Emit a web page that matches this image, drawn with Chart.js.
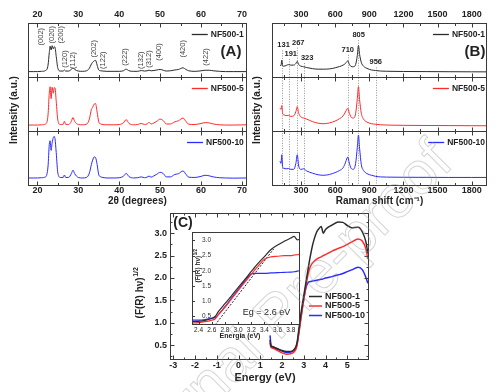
<!DOCTYPE html>
<html>
<head>
<meta charset="utf-8">
<script src="https://cdn.jsdelivr.net/npm/chart.js@4.4.1/dist/chart.umd.min.js"></script>
<style>
  html, body { margin: 0; padding: 0; background: #fff; }
  #wrap { position: relative; width: 502px; height: 392px; overflow: hidden; }
  canvas { position: absolute; }
</style>
</head>
<body>
<div id="wrap">
  <canvas id="xrd" width="250" height="210" style="left:0;top:0"></canvas>
  <canvas id="raman" width="252" height="210" style="left:250px;top:0"></canvas>
  <canvas id="km" width="260" height="187" style="left:120px;top:205px"></canvas>
  <canvas id="inset" width="122" height="125" style="left:185px;top:218px"></canvas>
  <canvas id="mark" width="502" height="392" style="left:0;top:0"></canvas>
</div>
<script>
const FONT = '"Liberation Sans", Arial, sans-serif';
Chart.defaults.font.family = FONT;
Chart.defaults.color = '#222';

const names = ['NF500-1', 'NF500-5', 'NF500-10'];

// (A) XRD, 2theta in degrees, intensity per sub-panel (0..100)
const xrdAngle = [17.7, 19, 20, 21, 22, 22.6, 22.9, 23.1, 23.35, 23.6, 23.9, 24.1, 24.3, 24.6, 25, 25.6, 26.3, 26.6, 26.9, 27.6,
  28.3, 28.7, 29.1, 30, 31, 32, 32.7, 33.2, 33.5, 33.9, 34.2, 34.6, 35, 35.5, 36, 37, 38.5, 40, 41, 41.7,
  42.4, 43.5, 44.5, 45.4, 46.2, 46.8, 47.3, 47.8, 48.5, 49.2, 50, 50.8, 51.5, 52.5, 53.6, 54.5, 55.6, 56.3, 57, 58.5,
  60, 61, 62, 63, 64.5, 66, 68, 71.2];
const xrd1 = [10, 10, 10, 10.5, 12, 22, 45, 57, 50, 58, 52, 56, 55, 38, 16, 11, 11, 13, 11, 11,
  14, 17, 14, 11, 10.5, 11.5, 16, 24, 27, 30, 31, 22, 13, 11.5, 11, 10.5, 10.5, 10.5, 11.5, 14.5,
  11.5, 10.5, 10.5, 12, 11, 11.5, 12.5, 11.5, 12, 13, 14, 12.5, 11, 11.5, 13, 14, 17, 14, 11.5, 10.5,
  11.5, 12.5, 12.5, 11.5, 10.5, 10, 10, 10];
const xrd5 = [11, 11, 11, 11.5, 13, 30, 70, 82, 60, 81, 70, 80, 80, 55, 20, 12, 12.5, 18, 12.5, 12,
  18, 25, 18, 12, 11.5, 12.5, 22, 40, 44, 50, 51, 35, 17, 13, 12, 11.5, 11.5, 12, 15, 21,
  14, 11.5, 12, 14, 12, 13, 16, 13, 15, 18, 22, 19, 13, 13, 17, 19, 24, 18, 12.5, 12,
  14, 15.5, 15, 13, 11.5, 11, 11, 11.5];
const xrd10 = [13, 13, 13, 13.5, 15, 35, 75, 82, 64, 78, 88, 90, 86, 60, 22, 14, 14, 18.5, 14, 14,
  21, 27.5, 21, 14, 13, 14, 22, 38, 46, 52, 51, 38, 19, 15, 14, 13, 13, 13.5, 16, 21.5,
  15.5, 13, 13.5, 15, 13.5, 14.5, 16.5, 14.5, 17, 20, 23.5, 21, 15, 15, 19.5, 21, 26, 20, 14.5, 14,
  16, 18, 17, 15, 13.5, 13, 12.7, 13];
const xrdTicks = [20, 30, 40, 50, 60, 70];
const millerIndex = ['(002)', '(020)', '(200)', '(120)', '(112)', '(202)', '(122)', '(222)', '(132)', '(312)', '(400)', '(420)', '(422)'];
const millerAngle = [20.8, 23.6, 25.7, 26.8, 28.6, 33.8, 35.9, 41.3, 45.4, 47.2, 49.7, 55.5, 61.1];
const millerLevel = [58.5, 62, 62, 17, 15, 36, 15, 21, 15, 17, 30, 36, 21];

// (B) Raman, shift in cm-1, intensity per sub-panel (0..100)
const ramanShift = [115, 124, 131, 138, 150, 170, 191, 210, 235, 255, 267, 280, 300, 323, 350, 400, 450, 500, 550, 600,
  640, 670, 690, 705, 712, 722, 740, 760, 780, 795, 805, 815, 830, 850, 880, 920, 956, 1000, 1100, 1200,
  1400, 1600, 1800, 1930];
const raman1 = [22, 21, 31, 21, 20, 21.5, 23, 22, 22, 25, 29, 23, 20, 19, 17.5, 15.5, 14.5, 14.5, 15, 17,
  19.5, 22, 25, 29, 30, 25, 19.5, 19, 23, 40, 58.5, 42, 27, 20, 16, 13, 12, 11, 10.5, 10.2,
  10, 9.8, 9.6, 9.5];
const raman5 = [42, 40, 47, 33, 30, 28.5, 29, 27, 28, 36, 45, 33, 26, 24, 22, 17.5, 14.5, 13.5, 15, 18.5,
  23, 28, 35, 41, 42, 35, 26, 24, 32, 60, 82, 58, 33, 22, 16.5, 13.5, 12.5, 11.5, 10.8, 10.5,
  10.2, 10, 9.8, 9.7];
const raman10 = [44, 40, 56, 33, 31, 30, 30.5, 29, 29, 40, 56, 35, 29, 30, 26, 22, 19, 18, 19.5, 23,
  27, 32, 41, 50, 52, 43, 31, 29, 40, 70, 92.5, 68, 38, 27, 21, 18, 16, 15, 14.5, 14.3,
  14.2, 14, 14, 14];
const ramanTicks = [300, 600, 900, 1200, 1500, 1800];
const ramanBand = [131, 191, 267, 323, 710, 805, 956];
const ramanLabelAt = [147, 210, 276, 354, 711, 807, 957];
const ramanLabelLevel = [58.5, 42.8, 63.6, 35.3, 50.4, 77.4, 27];

// (C) Kubelka-Munk, energy in eV
const kmEnergy = [1.45, 1.48, 1.5, 1.6, 1.8, 2.0, 2.2, 2.4, 2.55, 2.65, 2.7, 2.8, 2.9, 3.0, 3.1, 3.2, 3.3, 3.4, 3.5, 3.6,
  3.7, 3.8, 3.9, 4.0, 4.3, 4.6, 4.8, 5.0, 5.2, 5.5, 5.7, 5.85, 5.95];
const km1 = [0.62, 0.5, 0.48, 0.46, 0.42, 0.38, 0.36, 0.36, 0.4, 0.48, 0.58, 0.95, 1.3, 1.6, 1.9, 2.2, 2.48, 2.72, 2.9, 3.03,
  3.1, 3.15, 3.0, 3.08, 3.18, 3.25, 3.24, 3.17, 3.12, 3.13, 3.02, 2.82, 2.55];
const km5 = [0.56, 0.47, 0.45, 0.43, 0.38, 0.33, 0.3, 0.31, 0.35, 0.42, 0.52, 0.85, 1.2, 1.52, 1.82, 2.08, 2.25, 2.33, 2.38, 2.42,
  2.45, 2.47, 2.5, 2.52, 2.6, 2.66, 2.7, 2.75, 2.8, 2.87, 2.82, 2.66, 2.42];
const km10 = [0.72, 0.55, 0.5, 0.46, 0.41, 0.37, 0.34, 0.35, 0.39, 0.46, 0.55, 0.88, 1.22, 1.52, 1.78, 1.9, 1.92, 1.93, 1.94, 1.95,
  1.96, 1.97, 1.98, 2.0, 2.03, 2.07, 2.1, 2.14, 2.18, 2.24, 2.18, 2.02, 1.88];
const kmXTicks = [-3, -2, -1, 0, 1, 2, 3, 4, 5];
const kmYTicks = [0.5, 1.0, 1.5, 2.0, 2.5, 3.0];

// (C) inset
const insetEnergy = [2.3, 2.4, 2.5, 2.55, 2.6, 2.65, 2.7, 2.8, 2.9, 3.0, 3.1, 3.2, 3.25, 3.3, 3.4, 3.5, 3.6, 3.7, 3.8, 3.85, 3.9, 3.94];
const inset1 = [0.33, 0.34, 0.37, 0.4, 0.44, 0.5, 0.66, 0.92, 1.18, 1.45, 1.71, 1.98, 2.11, 2.24, 2.47, 2.7, 2.85, 2.97, 3.08, 3.13, 3.02, 3.04];
const inset5 = [0.28, 0.3, 0.33, 0.35, 0.38, 0.42, 0.56, 0.8, 1.08, 1.35, 1.62, 1.88, 2.02, 2.15, 2.38, 2.46, 2.48, 2.5, 2.5, 2.52, 2.53, 2.55];
const inset10 = [0.38, 0.38, 0.4, 0.42, 0.44, 0.47, 0.56, 0.82, 1.1, 1.38, 1.66, 1.9, 1.92, 1.92, 1.92, 1.93, 1.94, 1.95, 1.96, 1.97, 1.99, 2.01];
const fitEnergy = [2.65, 3.54];
const fitValue = [0.22, 2.72];
const insetXTicks = [2.4, 2.6, 2.8, 3.0, 3.2, 3.4, 3.6, 3.8];
const insetYTicks = [0.5, 1.0, 1.5, 2.0, 2.5, 3.0];

const lineColors = ['#2b2b2b', '#ff2b2b', '#2b2bff'];
const frameColor = '#3a3a3a';
const tickFont = { family: FONT, size: 9, weight: 'bold' };

function steps(a, b, s) {
  const out = [];
  for (let i = 0; a + i * s <= b + 1e-9; i++) out.push(+(a + i * s).toFixed(4));
  return out;
}

function series(xs, list, axisIds, width) {
  return list.map((ys, i) => ({
    label: names[i],
    data: xs.map((x, j) => ({ x, y: ys[j] })),
    yAxisID: axisIds ? axisIds[i] : 'y',
    borderColor: lineColors[i],
    borderWidth: width,
    pointRadius: 0,
    cubicInterpolationMode: 'monotone',
    fill: false
  }));
}

function xAxis(pos, min, max, list, h, pad, font, fmt) {
  return {
    type: 'linear', axis: 'x', position: pos, min, max,
    afterBuildTicks: s => { s.ticks = list.map(v => ({ value: v })); },
    afterFit: s => { s.height = h; },
    grid: { display: false, drawTicks: false },
    border: { display: false },
    ticks: { font, color: '#222', padding: pad, maxRotation: 0, autoSkip: false, callback: fmt || (v => v) }
  };
}

function stackY() {
  return {
    type: 'linear', position: 'left', stack: 'panels', stackWeight: 1, min: 0, max: 100,
    afterFit: s => { s.width = 0; },
    grid: { display: false, drawTicks: false },
    border: { display: false },
    ticks: { display: false }
  };
}

function marks(ctx, scale, vals, edge, dir, len) {
  ctx.beginPath();
  vals.forEach(v => {
    const p = Math.round(scale.getPixelForValue(v)) + 0.5;
    if (scale.isHorizontal()) { ctx.moveTo(p, edge); ctx.lineTo(p, edge + dir * len); }
    else { ctx.moveTo(edge, p); ctx.lineTo(edge + dir * len, p); }
  });
  ctx.stroke();
}

function drawStack(ctx, a, xs, panels, major, minor) {
  ctx.strokeStyle = frameColor;
  ctx.lineWidth = 1;
  const L = Math.round(a.left) + 0.5, R = Math.round(a.right) - 0.5;
  panels.forEach(p => {
    const T = Math.round(p.top) + 0.5, B = Math.round(p.bottom) + 0.5;
    ctx.strokeRect(L, T, R - L, B - T);
    marks(ctx, xs, major, T, 1, 4); marks(ctx, xs, minor, T, 1, 2.5);
    marks(ctx, xs, major, B, -1, 4); marks(ctx, xs, minor, B, -1, 2.5);
  });
}

// legend row whose text ends at xEnd
function legendRow(ctx, xEnd, y, color, text, len, size) {
  ctx.font = `bold ${size}px ${FONT}`;
  const x0 = xEnd - ctx.measureText(text).width;
  ctx.strokeStyle = color; ctx.lineWidth = 1.3;
  ctx.beginPath(); ctx.moveTo(x0 - 3 - len, y + 0.5); ctx.lineTo(x0 - 3, y + 0.5); ctx.stroke();
  ctx.fillStyle = '#222';
  ctx.textAlign = 'left'; ctx.textBaseline = 'middle';
  ctx.fillText(text, x0, y + 0.5);
}

function text(ctx, t, x, y, font, rot) {
  ctx.save();
  ctx.translate(x, y);
  if (rot) ctx.rotate(-Math.PI / 2);
  ctx.font = `${font} ${FONT}`; ctx.fillStyle = '#222';
  ctx.textAlign = 'center'; ctx.textBaseline = 'middle';
  ctx.fillText(t, 0, 0);
  ctx.restore();
}

function supTitle(ctx, x, y, base, sup, size, weight) {
  ctx.save();
  ctx.translate(x, y); ctx.rotate(-Math.PI / 2);
  ctx.fillStyle = '#222'; ctx.textAlign = 'left'; ctx.textBaseline = 'middle';
  ctx.font = `${weight} ${size}px ${FONT}`;
  const w1 = ctx.measureText(base).width;
  ctx.font = `${weight} ${size * 0.7}px ${FONT}`;
  const w2 = ctx.measureText(sup).width;
  const sx = -(w1 + w2) / 2;
  ctx.font = `${weight} ${size}px ${FONT}`;
  ctx.fillText(base, sx, 0);
  ctx.font = `${weight} ${size * 0.7}px ${FONT}`;
  ctx.fillText(sup, sx + w1 + 0.5, -size * 0.38);
  ctx.restore();
}

const common = {
  responsive: false, animation: false, events: [],
  plugins: { legend: { display: false }, tooltip: { enabled: false } }
};

// ---- (A) XRD
const xrdDecor = {
  id: 'xrdDecor',
  afterDraw(chart) {
    const { ctx, chartArea: a, scales: s } = chart;
    const panels = [s.y1, s.y2, s.y3];
    ctx.save();
    drawStack(ctx, a, s.x, panels, steps(20, 70, 10), steps(25, 65, 10));
    panels.forEach((p, i) => legendRow(ctx, a.right - 3, p.top + 11, lineColors[i], names[i], 16, 8.5));
    ctx.fillStyle = '#444'; ctx.font = `7.5px ${FONT}`;
    ctx.textAlign = 'left'; ctx.textBaseline = 'middle';
    millerIndex.forEach((t, i) => {
      ctx.save();
      ctx.translate(s.x.getPixelForValue(millerAngle[i]), s.y1.getPixelForValue(millerLevel[i]));
      ctx.rotate(-Math.PI / 2);
      ctx.fillText(t, 0, 0);
      ctx.restore();
    });
    text(ctx, '(A)', 231, 51.5, 'bold 15px');
    text(ctx, 'Intensity (a.u.)', 14, 110, 'bold 10px', true);
    text(ctx, '2θ (degrees)', (a.left + a.right) / 2, 201, 'bold 10px');
    ctx.restore();
  }
};

new Chart(document.getElementById('xrd'), {
  type: 'line',
  data: { datasets: series(xrdAngle, [xrd1, xrd5, xrd10], ['y1', 'y2', 'y3'], 1) },
  options: {
    ...common,
    layout: { padding: { left: 28, right: 3, top: 0, bottom: 0 } },
    scales: {
      x: xAxis('bottom', 17.7, 71.2, xrdTicks, 25, 0, tickFont),
      xTop: xAxis('top', 17.7, 71.2, xrdTicks, 23, 3, tickFont),
      y3: stackY(), y2: stackY(), y1: stackY()
    }
  },
  plugins: [xrdDecor]
});

// ---- (B) Raman
const ramanDecor = {
  id: 'ramanDecor',
  beforeDatasetsDraw(chart) {
    const { ctx, chartArea: a, scales: s } = chart;
    ctx.save();
    ctx.setLineDash([1, 1.5]); ctx.strokeStyle = '#7a7a7a'; ctx.lineWidth = 0.8;
    ramanBand.forEach((b, i) => {
      const x = Math.round(s.x.getPixelForValue(b)) + 0.5;
      ctx.beginPath();
      ctx.moveTo(x, s.y1.getPixelForValue(ramanLabelLevel[i]) + 5);
      ctx.lineTo(x, a.bottom);
      ctx.stroke();
    });
    ctx.restore();
  },
  afterDraw(chart) {
    const { ctx, chartArea: a, scales: s } = chart;
    const panels = [s.y1, s.y2, s.y3];
    ctx.save();
    drawStack(ctx, a, s.x, panels, steps(300, 1800, 300), steps(150, 1650, 300));
    panels.forEach((p, i) => legendRow(ctx, a.right - 2, p.top + 11, lineColors[i], names[i], 16, 8.5));
    ramanBand.forEach((b, i) => {
      text(ctx, String(b), s.x.getPixelForValue(ramanLabelAt[i]), s.y1.getPixelForValue(ramanLabelLevel[i]), 'bold 7.5px');
    });
    text(ctx, '(B)', 225, 52, 'bold 15px');
    text(ctx, 'Intensity (a.u.)', 7, 110, 'bold 10px', true);
    text(ctx, 'Raman shift (cm⁻¹)', (a.left + a.right) / 2, 201, 'bold 10px');
    ctx.restore();
  }
};

new Chart(document.getElementById('raman'), {
  type: 'line',
  data: { datasets: series(ramanShift, [raman1, raman5, raman10], ['y1', 'y2', 'y3'], 1) },
  options: {
    ...common,
    layout: { padding: { left: 22, right: 15, top: 0, bottom: 0 } },
    scales: {
      x: xAxis('bottom', 45, 1935, ramanTicks, 25, 0, tickFont),
      xTop: xAxis('top', 45, 1935, ramanTicks, 23, 3, tickFont),
      y3: stackY(), y2: stackY(), y1: stackY()
    }
  },
  plugins: [ramanDecor]
});

// ---- (C) main
const kmDecor = {
  id: 'kmDecor',
  afterDraw(chart) {
    const { ctx, chartArea: a, scales: s } = chart;
    ctx.save();
    ctx.strokeStyle = frameColor; ctx.lineWidth = 1;
    const L = Math.round(a.left) + 0.5, R = Math.round(a.right) - 0.5;
    const T = Math.round(a.top) + 0.5, B = Math.round(a.bottom) - 0.5;
    ctx.strokeRect(L, T, R - L, B - T);
    marks(ctx, s.x, steps(-3, 5, 1), B, -1, 4); marks(ctx, s.x, steps(-2.5, 5.5, 1), B, -1, 2);
    marks(ctx, s.x, steps(-3, 5, 1), T, 1, 4); marks(ctx, s.x, steps(-2.5, 5.5, 1), T, 1, 2);
    marks(ctx, s.y, steps(0.5, 3, 0.5), L, 1, 4); marks(ctx, s.y, steps(0.25, 3.25, 0.5), L, 1, 2);
    marks(ctx, s.y, steps(0.5, 3, 0.5), R, -1, 4); marks(ctx, s.y, steps(0.25, 3.25, 0.5), R, -1, 2);
    names.forEach((n, i) => {
      ctx.strokeStyle = lineColors[i]; ctx.lineWidth = 1.5;
      const y = 91.5 + i * 9.5;
      ctx.beginPath(); ctx.moveTo(189, y); ctx.lineTo(202, y); ctx.stroke();
      ctx.font = `bold 9px ${FONT}`; ctx.fillStyle = '#222';
      ctx.textAlign = 'left'; ctx.textBaseline = 'middle';
      ctx.fillText(n, 205, y);
    });
    text(ctx, '(C)', 63, 18, 'bold 14px');
    text(ctx, 'Energy (eV)', 145, 173, 'bold 11px');
    supTitle(ctx, 20, 88, '(F(R) hν)', '1/2', 10, 'bold');
    ctx.restore();
  }
};

new Chart(document.getElementById('km'), {
  type: 'line',
  data: { datasets: series(kmEnergy, [km1, km5, km10], null, 1.5) },
  options: {
    ...common,
    layout: { padding: { left: 28, right: 11, top: 8, bottom: 0 } },
    scales: {
      x: xAxis('bottom', -3.15, 6, kmXTicks, 32, 0, tickFont),
      y: {
        type: 'linear', position: 'left', min: 0.17, max: 3.44,
        afterBuildTicks: sc => { sc.ticks = kmYTicks.map(v => ({ value: v })); },
        afterFit: sc => { sc.width = 22; },
        grid: { display: false, drawTicks: false }, border: { display: false },
        ticks: { font: tickFont, color: '#222', padding: 3, callback: v => v.toFixed(1) }
      }
    }
  },
  plugins: [kmDecor]
});

// ---- (C) inset
const smallFont = { family: FONT, size: 6.5 };
const insetDecor = {
  id: 'insetDecor',
  beforeDraw(chart) {
    const { ctx, chartArea: a } = chart;
    ctx.save(); ctx.fillStyle = '#fff';
    ctx.fillRect(a.left, a.top, a.width, a.height);
    ctx.restore();
  },
  afterDraw(chart) {
    const { ctx, chartArea: a, scales: s } = chart;
    ctx.save();
    ctx.strokeStyle = frameColor; ctx.lineWidth = 1;
    const L = Math.round(a.left) + 0.5, R = Math.round(a.right) - 0.5;
    const T = Math.round(a.top) + 0.5, B = Math.round(a.bottom) - 0.5;
    ctx.strokeRect(L, T, R - L, B - T);
    marks(ctx, s.x, insetXTicks, B, -1, 2.5);
    marks(ctx, s.y, insetYTicks, L, 1, 2.5);
    supTitle(ctx, 13, 48, '(F(R) hν)', '1/2', 6.5, 'bold');
    text(ctx, 'Energia (eV)', 55, 118, 'bold 7px');
    text(ctx, 'Eg = 2.6 eV', 81.5, 95, '9px');
    ctx.restore();
  }
};

const insetSets = series(insetEnergy, [inset1, inset5, inset10], null, 1.2);
insetSets.push({
  label: 'fit',
  data: fitEnergy.map((x, j) => ({ x, y: fitValue[j] })),
  borderColor: '#222', borderWidth: 1, borderDash: [2, 1.5], pointRadius: 0, fill: false
});

new Chart(document.getElementById('inset'), {
  type: 'line',
  data: { datasets: insetSets },
  options: {
    ...common,
    layout: { padding: { left: 7, right: 7, top: 7, bottom: 0 } },
    scales: {
      x: xAxis('bottom', 2.3, 3.94, insetXTicks, 18, 1, smallFont, v => v.toFixed(1)),
      y: {
        type: 'linear', position: 'left', min: 0.22, max: 3.28,
        afterBuildTicks: sc => { sc.ticks = insetYTicks.map(v => ({ value: v })); },
        afterFit: sc => { sc.width = 0; },
        grid: { display: false, drawTicks: false }, border: { display: false },
        ticks: { font: smallFont, color: '#333', padding: 10, mirror: true, callback: v => v.toFixed(1) }
      }
    }
  },
  plugins: [insetDecor]
});

// faint watermark across the figure
const wm = document.getElementById('mark').getContext('2d');
wm.save();
wm.translate(455, 165);
wm.rotate(-Math.PI / 4);
wm.font = `60px ${FONT}`;
wm.textAlign = 'right';
wm.textBaseline = 'alphabetic';
wm.strokeStyle = 'rgba(150,150,150,0.4)';
wm.lineWidth = 1;
wm.strokeText('Journal Pre-proof', 0, 0);
wm.restore();
</script>
</body>
</html>
